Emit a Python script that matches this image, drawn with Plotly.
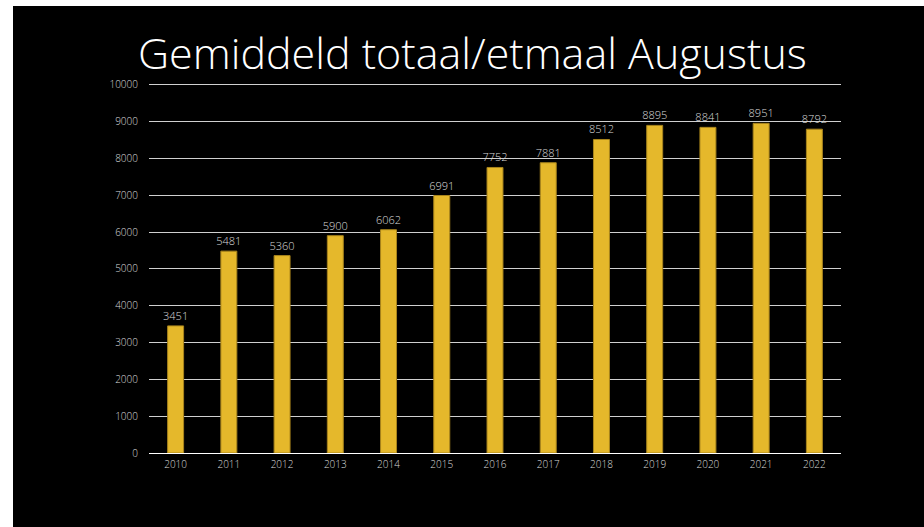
import plotly.graph_objects as go

years = ["2010", "2011", "2012", "2013", "2014", "2015", "2016", "2017", "2018", "2019", "2020", "2021", "2022"]
values = [3451, 5481, 5360, 5900, 6062, 6991, 7752, 7881, 8512, 8895, 8841, 8951, 8792]
y_ticks = [0, 1000, 2000, 3000, 4000, 5000, 6000, 7000, 8000, 9000, 10000]
y_tick_labels = ["0", "1000", "2000", "3000", "4000", "5000", "6000", "7000", "8000", "9000", "10000"]
title = "Gemiddeld totaal/etmaal Augustus"

W, H = 924, 527
L, R, T, B = 149, 83, 81, 74
pw, ph = W - L - R, H - T - B

def px_x(x):
    return (x - L) / pw

def px_y(y):
    return (H - B - y) / ph

fig = go.Figure()
fig.add_trace(go.Bar(
    x=years, y=values,
    marker=dict(color="#E5B82B", line=dict(color="#A8841C", width=1)),
    text=[str(v) for v in values],
    textposition="outside",
    constraintext="none",
    textfont=dict(color="#d9d9d9", size=11, family="Open Sans, sans-serif", weight=300),
    cliponaxis=False,
))

fig.update_layout(
    width=W, height=H,
    margin=dict(l=L, r=R, t=T, b=B),
    paper_bgcolor="black",
    plot_bgcolor="black",
    bargap=0.7,
    showlegend=False,
    font=dict(family="Open Sans, sans-serif", color="#d9d9d9", size=10),
    xaxis=dict(showgrid=False, showline=False, ticks="", ticklabelstandoff=4,
               tickfont=dict(size=10, color="#d9d9d9", weight=300)),
    yaxis=dict(range=[0, 10100], tickvals=y_ticks, ticktext=y_tick_labels,
               showgrid=True, gridcolor="#d0d0d0", gridwidth=1,
               zeroline=True, zerolinecolor="#ffffff", zerolinewidth=1,
               showline=False, ticks="", ticklabelstandoff=10,
               tickfont=dict(size=10, color="#d9d9d9", weight=300)),
    shapes=[
        dict(type="rect", xref="paper", yref="paper", x0=px_x(0), x1=px_x(13), y0=px_y(527), y1=px_y(0),
             fillcolor="white", line=dict(width=0), layer="above"),
        dict(type="rect", xref="paper", yref="paper", x0=px_x(0), x1=px_x(924), y0=px_y(6), y1=px_y(0),
             fillcolor="white", line=dict(width=0), layer="above"),
    ],
    annotations=[
        dict(text=title, xref="paper", yref="paper", x=px_x(472), y=px_y(52),
             xanchor="center", yanchor="middle", showarrow=False,
             font=dict(size=43, color="white", family="Open Sans, sans-serif", weight=300)),
    ],
)

fig.write_html("out.html")
